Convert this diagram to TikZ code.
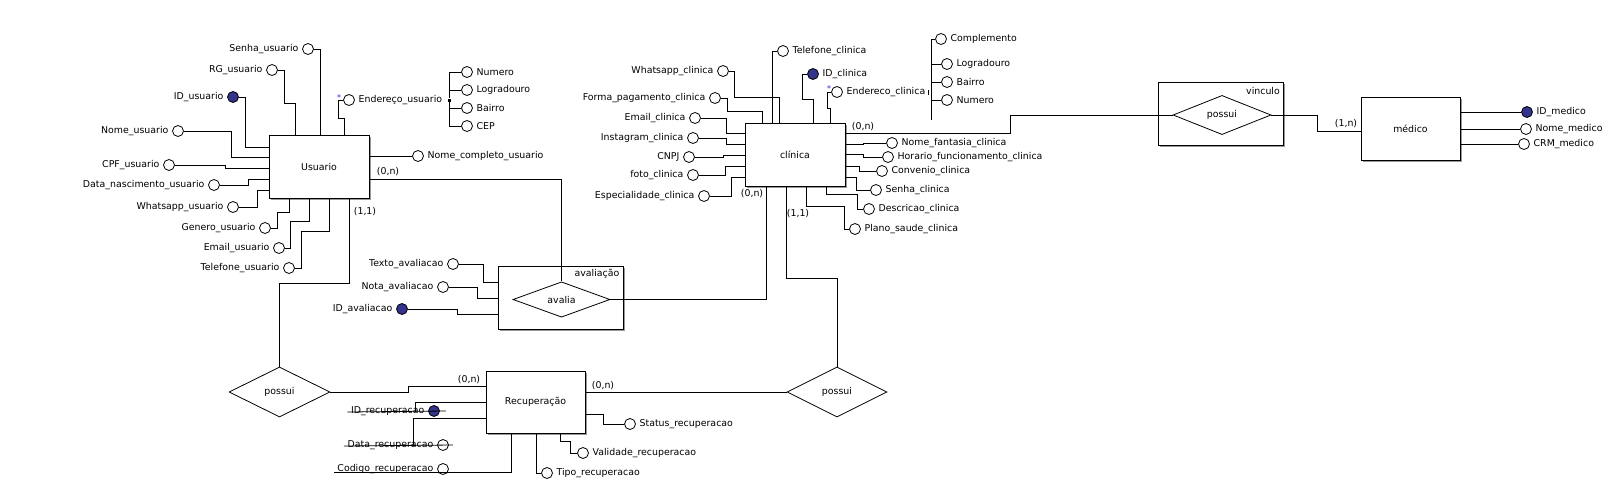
\documentclass[tikz,border=0pt]{standalone}
\usepackage{fontspec}
\setmainfont{DejaVu Sans}
\usepackage{tikz}
\usetikzlibrary{shapes.geometric, shadows}
\definecolor{keyblue}{RGB}{52,52,140}
\definecolor{astblue}{RGB}{40,40,230}

\begin{document}
\begin{tikzpicture}[
  x=1pt, y=-1pt,
  font=\fontsize{9.4}{11}\selectfont,
  line width=0.8pt,
  ent/.style={draw, fill=white, minimum width=100pt, minimum height=63pt, inner sep=0pt, drop shadow={shadow xshift=1.6pt, shadow yshift=-1.6pt, fill=black!40, opacity=1}},
  agg/.style={ent, minimum width=125pt},
  rel/.style={draw, diamond, fill=white, inner sep=0pt, minimum width=100pt, minimum height=50pt},
  attr/.style={draw, circle, fill=white, minimum size=11pt, inner sep=0pt, label distance=0pt},
  keyattr/.style={attr, fill=keyblue},
  card/.style={inner sep=0pt},
  ast/.style={text=astblue, font=\fontsize{8}{8}\selectfont, inner sep=0pt}
]
\fill[white] (0,0) rectangle (1613,487);
\useasboundingbox (0,0) rectangle (1613,487);

% ----- Entidades -----
\node[ent] (usuario) at (319,166.5) {Usuario};
\node[ent] (clinica) at (795,154.5) {clínica};
\node[ent, minimum width=99pt] (medico) at (1410.5,128.5) {médico};
\node[ent, minimum width=99pt, minimum height=62pt] (recup) at (535.5,402) {Recuperação};

% ----- Agregacoes -----
\node[agg] (aval) at (560.5,297.5) {};
\node at (597,274) {avaliação};
\node[agg] (vinc) at (1220.5,113.5) {};
\node at (1263,91) {vinculo};

% ----- Relacionamentos -----
\node[rel, minimum width=101pt] (possuiA) at (279.5,392) {possui};
\node[rel] (possuiB) at (837,392) {possui};
\node[rel, minimum width=97pt, minimum height=35pt] (avalia) at (561.5,299.5) {avalia};
\node[rel, minimum width=98pt, minimum height=35pt] (possuiV) at (1222,115) {possui};

% ----- Atributos Usuario -----
\node[attr, label={left:Senha\_usuario}] (senhaU) at (308,49) {};
\node[attr, label={left:RG\_usuario}] (rgU) at (272,70) {};
\node[keyattr, label={left:ID\_usuario}] (idU) at (233,97) {};
\node[attr, label={left:Nome\_usuario}] (nomeU) at (178,131) {};
\node[attr, label={left:CPF\_usuario}] (cpfU) at (169,165) {};
\node[attr, label={left:Data\_nascimento\_usuario}] (dataU) at (214,185) {};
\node[attr, label={left:Whatsapp\_usuario}] (whatsU) at (233,207) {};
\node[attr, label={left:Genero\_usuario}] (generoU) at (265,228) {};
\node[attr, label={left:Email\_usuario}] (emailU) at (279,248) {};
\node[attr, label={left:Telefone\_usuario}] (telU) at (289,268) {};
\node[attr, label={right:Endereço\_usuario}] (endU) at (349,100) {};
\node[ast] at (339,98) {*};
\node[fill, minimum size=3pt, inner sep=0pt] (endUj) at (449,100) {};
\node[attr, label={right:Numero}] (numU) at (467,72) {};
\node[attr, label={right:Logradouro}] (logU) at (467,90) {};
\node[attr, label={right:Bairro}] (baiU) at (467,108) {};
\node[attr, label={right:CEP}] (cepU) at (467,126) {};
\node[attr, label={right:Nome\_completo\_usuario}] (nomeComplU) at (418,156) {};

\draw (senhaU.east) -| (usuario.north -| 320,0);
\draw (rgU.east) -| (284,103) -| (usuario.north -| 295,0);
\draw (idU.east) -| (245,147) -- (usuario.west |- 0,147);
\draw (nomeU.east) -| (231,157) -- (usuario.west |- 0,157);
\draw (cpfU.east) -| (225,168) -- (usuario.west |- 0,168);
\draw (dataU.east) -| (248,179) -- (usuario.west |- 0,179);
\draw (whatsU.east) -| (257,190) -- (usuario.west |- 0,190);
\draw (generoU.east) -| (277,212) -| (usuario.south -| 289,0);
\draw (emailU.east) -| (290,221) -| (usuario.south -| 309,0);
\draw (telU.east) -| (301,231) -| (usuario.south -| 329,0);
\draw (endU.west) -| (338,118) -| (usuario.north -| 344,0);
\draw (numU.west) -| (endUj) |- (cepU.west);
\draw (logU.west) -- (logU.west -| endUj);
\draw (baiU.west) -- (baiU.west -| endUj);
\draw (nomeComplU.west) -- (usuario.east |- nomeComplU);

% ----- Atributos avaliacao -----
\node[attr, label={left:Texto\_avaliacao}] (textoAv) at (453,264) {};
\node[attr, label={left:Nota\_avaliacao}] (notaAv) at (443,287) {};
\node[keyattr, label={left:ID\_avaliacao}] (idAv) at (402,309) {};
\draw (textoAv.east) -| (483,282) -- (aval.west |- 0,282);
\draw (notaAv.east) -| (477,298) -- (aval.west |- 0,298);
\draw (idAv.east) -| (457,314) -- (aval.west |- 0,314);

% ----- Atributos clinica -----
\node[attr, label={right:Telefone\_clinica}] (telC) at (783,51) {};
\node[keyattr, label={right:ID\_clinica}] (idC) at (813,74) {};
\node[attr, label={right:Endereco\_clinica}] (endC) at (837,92) {};
\node[ast] at (829,89) {*};
\node[fill, minimum width=1.5pt, minimum height=5pt, inner sep=0pt] (endCt) at (928.5,92) {};
\coordinate (endCj) at (931,92);
\node[attr, label={right:Complemento}] (compC) at (941,39) {};
\node[attr, label={right:Logradouro}] (logC) at (947,64) {};
\node[attr, label={right:Bairro}] (baiC) at (947,82) {};
\node[attr, label={right:Numero}] (numC) at (947,100) {};
\node[attr, label={left:Whatsapp\_clinica}] (whatsC) at (723,71) {};
\node[attr, label={left:Forma\_pagamento\_clinica}] (formaC) at (715,98) {};
\node[attr, label={left:Email\_clinica}] (emailC) at (695,118) {};
\node[attr, label={left:Instagram\_clinica}] (instaC) at (693,138) {};
\node[attr, label={left:CNPJ}] (cnpj) at (689,157) {};
\node[attr, label={left:foto\_clinica}] (fotoC) at (693,175) {};
\node[attr, label={left:Especialidade\_clinica}] (espC) at (704,196) {};
\node[attr, label={right:Nome\_fantasia\_clinica}] (nomeFC) at (892,143) {};
\node[attr, label={right:Horario\_funcionamento\_clinica}] (horC) at (888,157) {};
\node[attr, label={right:Convenio\_clinica}] (convC) at (882,171) {};
\node[attr, label={right:Senha\_clinica}] (senhaC) at (876,190) {};
\node[attr, label={right:Descricao\_clinica}] (descC) at (869,209) {};
\node[attr, label={right:Plano\_saude\_clinica}] (planoC) at (855,229) {};

\draw (telC.west) -| (clinica.north -| 772,0);
\draw (idC.west) -| (802,99) -| (clinica.north -| 813,0);
\draw (endC.west) -| (827,108) -| (clinica.north -| 830,0);
\draw (compC.west) -| (endCj) -- ++(0,28);
\draw (logC.west) -- (logC.west -| endCj);
\draw (baiC.west) -- (baiC.west -| endCj);
\draw (numC.west) -- (numC.west -| endCj);
\draw (whatsC.east) -| (734,97) -| (clinica.north -| 779,0);
\draw (formaC.east) -| (727,111) -| (clinica.north -| 762,0);
\draw (emailC.east) -| (726,133) -- (clinica.west |- 0,133);
\draw (instaC.east) -| (726,144) -- (clinica.west |- 0,144);
\draw (cnpj.east) -| (723,155) -- (clinica.west |- 0,155);
\draw (fotoC.east) -| (725,166) -- (clinica.west |- 0,166);
\draw (espC.east) -| (731,177) -- (clinica.west |- 0,177);
\draw (clinica.east |- 0,144) -- (863,144) |- (nomeFC.west);
\draw (clinica.east |- 0,154) -- (863,154) |- (horC.west);
\draw (clinica.east |- 0,166) -- (859,166) |- (convC.west);
\draw (clinica.east |- 0,177) -- (856,177) |- (senhaC.west);
\draw (clinica.south -| 826,0) |- (857,194) |- (descC.west);
\draw (clinica.south -| 806,0) |- (844,206) |- (planoC.west);

% ----- Atributos medico -----
\node[keyattr, label={right:ID\_medico}] (idM) at (1527,112) {};
\node[attr, label={right:Nome\_medico}] (nomeM) at (1526,129) {};
\node[attr, label={right:CRM\_medico}] (crmM) at (1524,144) {};
\draw (medico.east |- idM) -- (idM.west);
\draw (medico.east |- nomeM) -- (nomeM.west);
\draw (medico.east |- crmM) -- (crmM.west);

% ----- Atributos Recuperacao -----
\node[keyattr, label={[name=idRl]left:ID\_recuperacao}] (idR) at (434,411) {};
\node[attr, label={[name=dataRl]left:Data\_recuperacao}] (dataR) at (443,445) {};
\node[attr, label={[name=codRl]left:Codigo\_recuperacao}] (codR) at (443,469) {};
\node[attr, label={right:Status\_recuperacao}] (statusR) at (630,424) {};
\node[attr, label={right:Validade\_recuperacao}] (validR) at (583,453) {};
\node[attr, label={right:Tipo\_recuperacao}] (tipoR) at (547,473) {};
\draw (recup.west |- 0,402) -| (415,412);
\draw (idRl.west |- 0,412) -- ([xshift=6pt]idR.east);
\draw (recup.west |- 0,418) -| (413,446);
\draw (dataRl.west |- 0,446) -- ([xshift=4pt]dataR.east);
\draw (recup.south -| 511,0) |- (codRl.west |- 0,472);
\draw (recup.east |- 0,414) -| (603,424) -- (statusR.west);
\draw (recup.south -| 560,0) |- (570,441) |- (validR.west);
\draw (recup.south -| 536,0) |- (tipoR.west);

% ----- Ligacoes -----
\draw (usuario.east |- 0,179) -| (avalia.north);
\node[card] at (388,172) {(0,n)};
\draw (usuario.south -| 349,0) |- (possuiA.north |- 0,283) -- (possuiA.north);
\node[card] at (365,212) {(1,1)};
\draw (possuiA.east) -| (408,386) -- (recup.west |- 0,386);
\node[card] at (469,380) {(0,n)};
\draw (recup.east |- possuiB) -- (possuiB.west);
\node[card] at (603,386) {(0,n)};
\draw (clinica.south -| 786,0) |- (possuiB.north |- 0,278) -- (possuiB.north);
\node[card] at (798,214) {(1,1)};
\draw (avalia.east) -| (clinica.south -| 766,0);
\node[card] at (752,194) {(0,n)};
\draw (clinica.east |- 0,133) -| (1010,115) -- (possuiV.west);
\node[card] at (863,127) {(0,n)};
\draw (possuiV.east) -| (1317,131) -- (medico.west |- 0,131);
\node[card] at (1346,124) {(1,n)};

\end{tikzpicture}
\end{document}
